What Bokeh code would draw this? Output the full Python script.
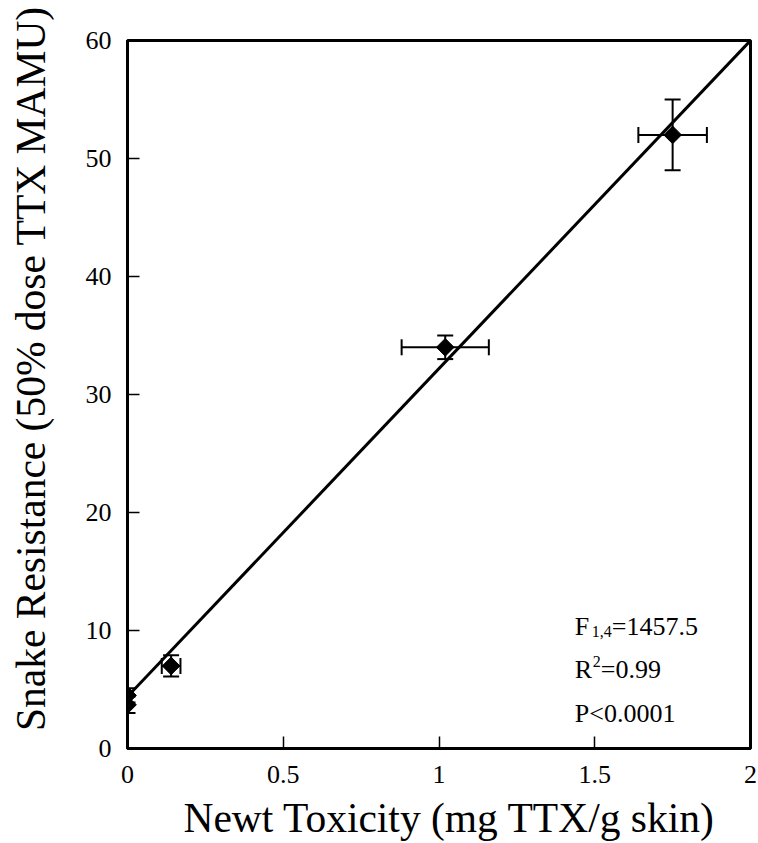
import numpy as np
from bokeh.plotting import figure
from bokeh.models import (Whisker, ColumnDataSource, FixedTicker, Range1d,
                          TeeHead, CustomJSTickFormatter)
from bokeh.core.properties import value
from bokeh.embed import file_html
from bokeh.resources import INLINE

# ---- data ----
toxicity = [0.0, 0.0, 0.14, 1.02, 1.75]
toxicity_err = [0.0, 0.0, 0.03, 0.14, 0.11]
resistance = [3.7, 4.5, 7.0, 34.0, 52.0]
resistance_err = [0.7, 0.6, 0.9, 1.0, 3.0]
fit_intercept = 4.4
fit_slope = 27.8
fit_x = [0.0, 2.0]
x_ticks = [0, 0.5, 1, 1.5, 2]
y_ticks = [0, 10, 20, 30, 40, 50, 60]
stat_F_df = "1,4"
stat_F = "1457.5"
stat_R2 = "0.99"
stat_P = "0.0001"
x_label = "Newt Toxicity (mg TTX/g skin)"
y_label = "Snake Resistance (50% dose TTX MAMU)"

FONT = "Liberation Serif"

p = figure(width=758, height=843, output_backend="svg", toolbar_location=None,
           x_range=Range1d(0, 2), y_range=Range1d(0, 60),
           min_border_left=127, min_border_right=8, min_border_top=40,
           min_border_bottom=93)
p.background_fill_color = "white"
p.border_fill_color = "white"
p.outline_line_color = "black"
p.outline_line_width = 3
p.xgrid.visible = False
p.ygrid.visible = False

for ax in (p.xaxis[0], p.yaxis[0]):
    ax.axis_line_width = 3
    ax.axis_line_color = "black"
    ax.major_tick_in = 12
    ax.major_tick_out = 0
    ax.minor_tick_in = 0
    ax.minor_tick_out = 0
    ax.major_tick_line_width = 1.5
    ax.major_tick_line_color = "black"
    ax.major_label_text_font = FONT
    ax.major_label_text_font_size = "26px"
    ax.major_label_text_color = "black"
    ax.axis_label_text_font = FONT
    ax.axis_label_text_font_size = "41.5px"
    ax.axis_label_text_font_style = "normal"
    ax.axis_label_text_color = "black"

p.xaxis.ticker = FixedTicker(ticks=x_ticks)
p.yaxis.ticker = FixedTicker(ticks=y_ticks)
p.xaxis.formatter = CustomJSTickFormatter(code="return tick.toString();")
p.yaxis.formatter = CustomJSTickFormatter(code="return tick.toString();")
p.xaxis.major_label_standoff = 17
p.yaxis.major_label_standoff = 16

# labels sit slightly off the axis centres in the reference:
# pad their start with non-breaking spaces
p.xaxis.axis_label = "\u00a0" * 2 + x_label
p.xaxis.axis_label_standoff = 9

p.yaxis.axis_label = "\u00a0" * 5 + y_label
p.yaxis.axis_label_standoff = 29

# regression line
fit_y = [fit_intercept + fit_slope * xv for xv in fit_x]
p.line(fit_x, fit_y, line_color="black", line_width=3)

# error bars
ysrc = ColumnDataSource(dict(
    x=toxicity,
    lower=[r - e for r, e in zip(resistance, resistance_err)],
    upper=[r + e for r, e in zip(resistance, resistance_err)]))
vw = Whisker(source=ysrc, base="x", lower="lower", upper="upper", dimension="height",
             line_width=2, line_color="black",
             upper_head=TeeHead(size=16, line_width=2, line_color="black"),
             lower_head=TeeHead(size=16, line_width=2, line_color="black"))
p.add_layout(vw)

xs_idx = [i for i, e in enumerate(toxicity_err) if e > 0]
xsrc = ColumnDataSource(dict(
    y=[resistance[i] for i in xs_idx],
    lower=[toxicity[i] - toxicity_err[i] for i in xs_idx],
    upper=[toxicity[i] + toxicity_err[i] for i in xs_idx]))
hw = Whisker(source=xsrc, base="y", lower="lower", upper="upper", dimension="width",
             line_width=2, line_color="black",
             upper_head=TeeHead(size=16, line_width=2, line_color="black"),
             lower_head=TeeHead(size=16, line_width=2, line_color="black"))
p.add_layout(hw)

# points (diamonds)
p.scatter(toxicity, resistance, marker="square", angle=np.pi / 4, size=12.5,
          fill_color="black", line_color="black")

# statistics text
tx = 1.436
def txt(x, y, s, size, xo=0, yo=0):
    p.text(x=[x], y=[y], text=[s], x_offset=xo, y_offset=yo,
           text_font=value(FONT), text_font_size=size, text_color="black",
           text_align="left", text_baseline="alphabetic")

txt(tx, 10.3, "F", "26px")
txt(tx, 10.3, stat_F_df, "16px", xo=17, yo=5)
txt(tx, 10.3, "=" + stat_F, "26px", xo=37)
txt(tx, 6.67, "R", "26px")
txt(tx, 6.67, "2", "16px", xo=18, yo=-8)
txt(tx, 6.67, "=" + stat_R2, "26px", xo=26)
txt(tx, 2.95, "P<" + stat_P, "26px")

open("out.html", "w").write(file_html(p, INLINE))
